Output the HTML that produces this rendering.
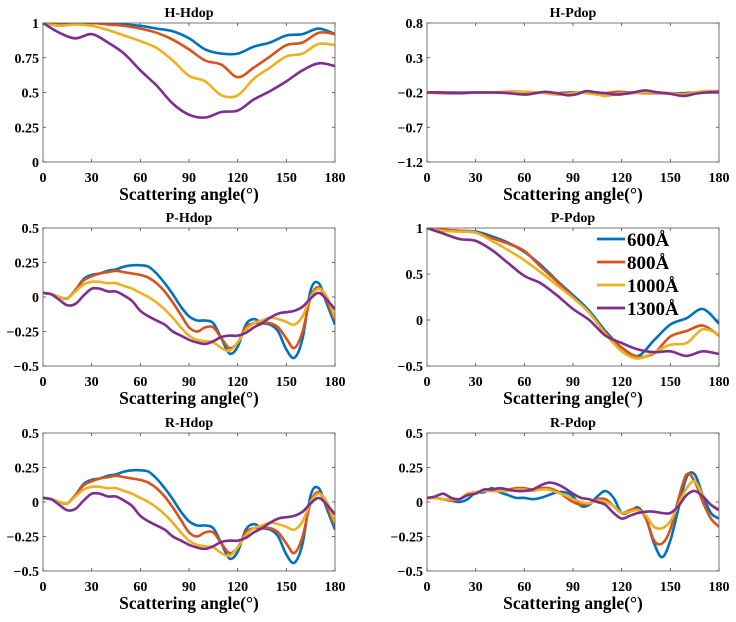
<!DOCTYPE html>
<html><head><meta charset="utf-8"><style>
html,body{margin:0;padding:0;background:#fff;}
svg{display:block;font-family:"Liberation Serif",serif;font-weight:bold;}
</style></head><body>
<svg id="fig" width="736" height="622" viewBox="0 0 736 622" xmlns="http://www.w3.org/2000/svg"></svg>
<script>
const colors = ['#0072BD','#D95319','#EDB120','#7E2F8E'];
const seriesNames = ['600Å','800Å','1000Å','1300Å'];
const xTicks = [0,30,60,90,120,150,180];

const anglesStep10 = [0,10,20,30,40,50,60,70,80,90,100,110,120,130,140,150,160,170,180];
const anglesStep5 = [0,5,10,15,20,25,30,35,40,45,50,55,60,65,70,75,80,85,90,95,100,105,110,115,120,125,130,135,140,145,150,155,160,165,170,175,180];
const anglesHP = [0,10,20,30,40,50,60,67,73,80,87,93,98,105,110,117,125,134,140,150,158,165,172,180];

const hhBlue = [1,1,1,1,1,.99,.98,.96,.94,.89,.81,.78,.78,.83,.86,.91,.92,.96,.92];
const hhRed = [1,1,1,1,.99,.98,.96,.93,.88,.81,.73,.70,.61,.68,.76,.84,.86,.93,.92];
const hhYellow = [1,.98,.99,.98,.95,.91,.87,.82,.73,.62,.58,.48,.48,.60,.68,.76,.78,.85,.84];
const hhPurple = [1,.93,.89,.92,.86,.78,.66,.55,.42,.34,.32,.36,.37,.45,.51,.58,.66,.71,.69];

const hpBlue = [-.2,-.2,-.2,-.2,-.2,-.2,-.2,-.2,-.2,-.21,-.2,-.2,-.2,-.2,-.21,-.2,-.2,-.2,-.2,-.21,-.21,-.2,-.2,-.2];
const hpRed = [-.2,-.21,-.21,-.2,-.2,-.19,-.19,-.2,-.2,-.21,-.21,-.2,-.2,-.2,-.21,-.19,-.2,-.21,-.21,-.21,-.22,-.2,-.19,-.19];
const hpYellow = [-.2,-.2,-.21,-.2,-.2,-.2,-.19,-.2,-.21,-.23,-.22,-.2,-.21,-.23,-.25,-.22,-.21,-.2,-.2,-.21,-.23,-.2,-.18,-.18];
const hpPurple = [-.2,-.2,-.21,-.2,-.2,-.21,-.23,-.21,-.19,-.21,-.24,-.22,-.18,-.2,-.21,-.23,-.21,-.17,-.19,-.22,-.25,-.22,-.2,-.19];

const phBlue = [.03,.02,0,-.01,.05,.13,.16,.17,.19,.2,.22,.23,.23,.22,.17,.1,.02,-.07,-.14,-.17,-.17,-.19,-.3,-.41,-.36,-.2,-.16,-.19,-.2,-.25,-.38,-.44,-.3,.05,.1,-.05,-.2];
const phRed = [.03,.02,0,-.01,.05,.12,.15,.17,.18,.19,.18,.17,.16,.14,.1,.04,-.04,-.13,-.22,-.25,-.22,-.22,-.3,-.37,-.33,-.22,-.19,-.19,-.19,-.22,-.3,-.37,-.25,0,.07,-.03,-.17];
const phYellow = [.03,.02,0,-.01,.04,.09,.11,.11,.1,.1,.08,.06,.03,0,-.04,-.09,-.15,-.22,-.28,-.31,-.32,-.33,-.37,-.39,-.33,-.24,-.19,-.17,-.15,-.16,-.18,-.2,-.14,0,.06,0,-.15];
const phPurple = [.03,.02,-.02,-.06,-.05,.01,.06,.06,.04,.04,.01,-.03,-.1,-.14,-.17,-.2,-.25,-.28,-.31,-.33,-.34,-.32,-.29,-.28,-.28,-.26,-.22,-.19,-.15,-.12,-.11,-.1,-.07,-.01,.03,-.02,-.09];

const ppBlue = [1,.98,.97,.96,.91,.84,.74,.6,.43,.27,.1,-.12,-.3,-.39,-.22,-.05,.02,.12,-.04];
const ppRed = [1,.98,.97,.95,.89,.83,.75,.58,.42,.25,.08,-.14,-.3,-.4,-.36,-.18,-.12,-.06,-.17];
const ppYellow = [1,.97,.96,.95,.86,.76,.65,.52,.38,.24,.08,-.15,-.34,-.42,-.35,-.27,-.25,-.1,-.16];
const ppPurple = [1,.94,.88,.86,.76,.62,.48,.40,.27,.12,0,-.17,-.25,-.32,-.35,-.34,-.39,-.34,-.37];

const rpBlue = [.03,.03,.02,.01,0,.02,.07,.07,.1,.07,.05,.03,.03,.02,.03,.05,.07,.07,.04,-.03,-.02,.04,.08,.03,-.08,-.07,-.04,-.12,-.3,-.4,-.28,-.05,.18,.2,.05,-.08,-.12];
const rpRed = [.03,.03,.02,.01,.02,.06,.07,.08,.08,.08,.09,.1,.1,.09,.1,.1,.08,.04,0,-.02,-.01,.02,.02,-.03,-.08,-.06,-.05,-.12,-.28,-.3,-.2,.02,.2,.15,0,-.12,-.18];
const rpYellow = [.03,.03,.02,.02,.02,.06,.07,.08,.08,.08,.08,.09,.09,.08,.09,.09,.07,.05,.02,0,-.01,.01,0,-.03,-.08,-.07,-.06,-.1,-.18,-.19,-.14,-.02,.1,.15,.05,-.02,-.05];
const rpPurple = [.03,.04,.06,.03,.02,.05,.06,.09,.09,.1,.09,.08,.08,.09,.12,.14,.13,.1,.06,.03,.02,0,-.02,-.08,-.12,-.1,-.08,-.07,-.07,-.08,-.08,-.03,.05,.08,.04,-.02,-.06];

const yTicksHH = [0,.25,.5,.75,1];
const yLabelsHH = ['0','0.25','0.5','0.75','1'];
const yTicksHP = [-1.2,-.7,-.2,.3,.8];
const yLabelsHP = ['−1.2','−0.7','−0.2','0.3','0.8'];
const yTicksH = [-.5,-.25,0,.25,.5];
const yLabelsH = ['−0.5','−0.25','0','0.25','0.5'];
const yTicksPP = [-.5,0,.5,1];
const yLabelsPP = ['−0.5','0','0.5','1'];

const NS='http://www.w3.org/2000/svg';
const svg=document.getElementById('fig');
function mk(tag,attrs,parent){const e=document.createElementNS(NS,tag);for(const k in attrs)e.setAttribute(k,attrs[k]);(parent||svg).appendChild(e);return e;}
function smooth(pts){
  let d='M'+pts[0][0].toFixed(1)+','+pts[0][1].toFixed(1);
  for(let i=0;i<pts.length-1;i++){
    const p0=pts[i-1]||pts[i],p1=pts[i],p2=pts[i+1],p3=pts[i+2]||p2;
    const c1x=p1[0]+(p2[0]-p0[0])/6,c1y=p1[1]+(p2[1]-p0[1])/6;
    const c2x=p2[0]-(p3[0]-p1[0])/6,c2y=p2[1]-(p3[1]-p1[1])/6;
    d+='C'+c1x.toFixed(1)+','+c1y.toFixed(1)+' '+c2x.toFixed(1)+','+c2y.toFixed(1)+' '+p2[0].toFixed(1)+','+p2[1].toFixed(1);
  }
  return d;
}

const panels=[
 {id:'h-hdop',title:'H-Hdop',x0:43,x1:335,y0:23,y1:162,ymin:0,ymax:1,yt:yTicksHH,yl:yLabelsHH,ang:anglesStep10,data:[hhBlue,hhRed,hhYellow,hhPurple]},
 {id:'h-pdop',title:'H-Pdop',x0:427,x1:719,y0:23,y1:162,ymin:-1.2,ymax:.8,yt:yTicksHP,yl:yLabelsHP,ang:anglesHP,data:[hpBlue,hpRed,hpYellow,hpPurple]},
 {id:'p-hdop',title:'P-Hdop',x0:43,x1:335,y0:228,y1:366,ymin:-.5,ymax:.5,yt:yTicksH,yl:yLabelsH,ang:anglesStep5,data:[phBlue,phRed,phYellow,phPurple]},
 {id:'p-pdop',title:'P-Pdop',x0:427,x1:719,y0:228,y1:366,ymin:-.5,ymax:1,yt:yTicksPP,yl:yLabelsPP,ang:anglesStep10,data:[ppBlue,ppRed,ppYellow,ppPurple],legend:true},
 {id:'r-hdop',title:'R-Hdop',x0:43,x1:335,y0:433,y1:571,ymin:-.5,ymax:.5,yt:yTicksH,yl:yLabelsH,ang:anglesStep5,data:[phBlue,phRed,phYellow,phPurple]},
 {id:'r-pdop',title:'R-Pdop',x0:427,x1:719,y0:433,y1:571,ymin:-.5,ymax:.5,yt:yTicksH,yl:yLabelsH,ang:anglesStep5,data:[rpBlue,rpRed,rpYellow,rpPurple]}
];

panels.forEach(p=>{
  const g=mk('g',{});
  
  
  const sx=v=>p.x0+(v/180)*(p.x1-p.x0);
  const sy=v=>p.y1-(v-p.ymin)/(p.ymax-p.ymin)*(p.y1-p.y0);
  const t=mk('text',{x:(p.x0+p.x1)/2,y:p.y0-6,'text-anchor':'middle','font-size':'14'},g);
  t.textContent=p.title;
  
  
  xTicks.forEach(v=>{
    mk('line',{x1:sx(v),x2:sx(v),y1:p.y1,y2:p.y1-3,stroke:'#444','stroke-width':0.8},g);
    mk('line',{x1:sx(v),x2:sx(v),y1:p.y0,y2:p.y0+3,stroke:'#444','stroke-width':0.8},g);
    const l=mk('text',{x:sx(v),y:p.y1+20,'text-anchor':'middle','font-size':'14'},g);
    l.textContent=v;
    
    
  });
  p.yt.forEach((v,i)=>{
    mk('line',{x1:p.x0,x2:p.x0+3,y1:sy(v),y2:sy(v),stroke:'#444','stroke-width':0.8},g);
    mk('line',{x1:p.x1,x2:p.x1-3,y1:sy(v),y2:sy(v),stroke:'#444','stroke-width':0.8},g);
    const l=mk('text',{x:p.x0-4,y:sy(v)+5,'text-anchor':'end','font-size':'14'},g);
    l.textContent=p.yl[i];
    
    
  });
  const xl=mk('text',{x:(p.x0+p.x1)/2,y:p.y1+38,'text-anchor':'middle','font-size':'17.5'},g);
  xl.textContent='Scattering angle(°)';
  
  
  const clipId='clip-'+p.id;
  const cp=mk('clipPath',{id:clipId},g);
  mk('rect',{x:p.x0,y:p.y0,width:p.x1-p.x0,height:p.y1-p.y0},cp);
  p.data.forEach((arr,si)=>{
    const pts=arr.map((v,i)=>[sx(p.ang[i]),sy(v)]);
    const path=mk('path',{d:smooth(pts),fill:'none',stroke:colors[si],'stroke-width':2.6,'stroke-linejoin':'round','clip-path':'url(#'+clipId+')'},g);
    
    
  });
  const box=mk('rect',{x:p.x0,y:p.y0,width:p.x1-p.x0,height:p.y1-p.y0,fill:'none',stroke:'#555','stroke-width':0.8},g);
  
  
  if(p.legend){
    const lg=mk('g',{},g);
    
    
    seriesNames.forEach((n,i)=>{
      const y=239+i*23;
      mk('line',{x1:597,x2:625,y1:y,y2:y,stroke:colors[i],'stroke-width':2.8},lg);
      const tx=mk('text',{x:627,y:y+7,'font-size':'19'},lg);
      tx.textContent=n;
      
      
    });
  }
});
</script>
</body></html>
